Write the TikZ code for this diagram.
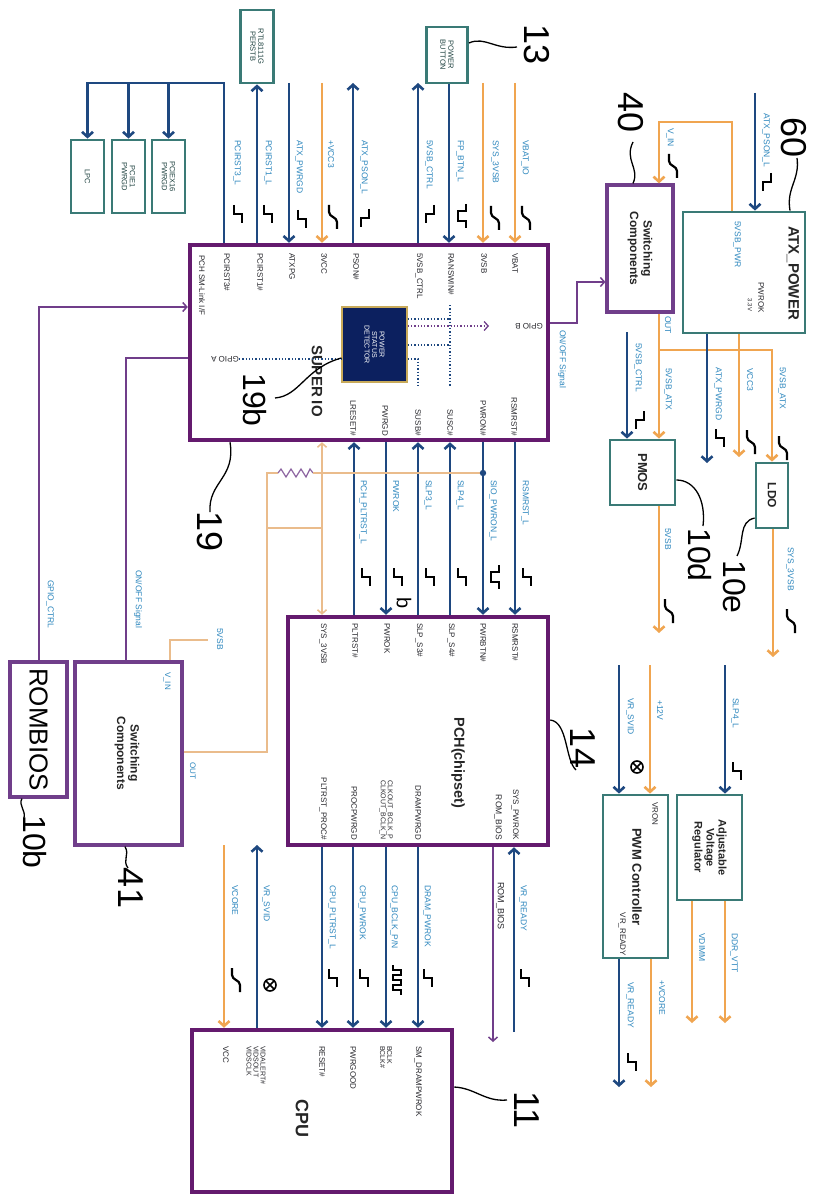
\documentclass[tikz,border=0pt]{standalone}
\usepackage{fontspec}
\setmainfont{Liberation Sans}
\usetikzlibrary{arrows.meta}
\definecolor{navy}{RGB}{30,72,128}
\definecolor{orng}{RGB}{240,165,80}
\definecolor{lorng}{RGB}{234,188,140}
\definecolor{lblc}{RGB}{45,135,190}
\definecolor{pinc}{RGB}{40,40,45}
\definecolor{purp}{RGB}{100,26,110}
\definecolor{purp2}{RGB}{112,62,138}
\definecolor{tealc}{RGB}{58,122,118}
\definecolor{detc}{RGB}{12,32,95}
\definecolor{detb}{RGB}{200,170,90}
\begin{document}
\begin{tikzpicture}[x=1pt,y=-1pt,
  nv/.style={draw=navy,line width=2.6pt},
  og/.style={draw=orng,line width=2.6pt},
  tog/.style={draw=lorng,line width=1.5pt},
  tpl/.style={draw=purp2,line width=1.5pt},
  arr/.style={-{Straight Barb[length=5pt,width=11pt]}},
  sarr/.style={-{Straight Barb[length=4pt,width=9pt]}},
  lbl/.style={rotate=-90,anchor=west,inner sep=0pt,text=lblc,font=\fontsize{8.5}{9}\selectfont},
  pin/.style={rotate=-90,inner sep=0pt,text=pinc,font=\fontsize{8}{8.5}\selectfont},
  pbox/.style={draw=purp,line width=4.5pt,inner sep=0pt},
  sbox/.style={draw=purp2,line width=3.2pt,inner sep=0pt},
  tbox/.style={draw=tealc,line width=2.8pt,inner sep=0pt},
  btxt/.style={rotate=-90,font=\bfseries\fontsize{11}{12}\selectfont,align=center,text=black!85,inner sep=0pt},
  ttxt/.style={rotate=-90,font=\fontsize{7.5}{8}\selectfont,align=center,text=tealc!55!black,inner sep=0pt},
  call/.style={draw=black,line width=1.3pt},
  num/.style={rotate=-90,font=\fontsize{36}{36}\selectfont,inner sep=0pt},
  glyph/.style={draw=black,line width=2.2pt},
  dot/.style={draw=navy,line width=1.3pt,dotted},
  wstep/.pic={\draw[glyph] (-4,-9)--(-4,0)--(4,0)--(4,9);},
  wfall/.pic={\draw[glyph] (4,-9)--(4,0)--(-4,0)--(-4,9);},
  wramp/.pic={\draw[glyph] (-4,-12)--(-4,-5) .. controls (-4,0) and (4,0) .. (4,5)--(4,12);},
  wpulse/.pic={\draw[glyph] (4,-12)--(4,-5)--(-4,-5)--(-4,5)--(4,5)--(4,12);},
  wclk/.pic={\draw[glyph] (-4,-15)--(-4,-10)--(4,-10)--(4,-5)--(-4,-5)--(-4,0)--(4,0)--(4,5)--(-4,5)--(-4,10)--(4,10)--(4,15);},
  wsvid/.pic={\draw[black,line width=1.6pt] (0,0) circle (6) (-4.3,-4.3)--(4.3,4.3) (-4.3,4.3)--(4.3,-4.3);}
]
\fill[white] (0,0) rectangle (815,1198);
\useasboundingbox (0,0) rectangle (815,1198);

% ================= boxes =================
\node[pbox,minimum width=358pt,minimum height=195pt] (sio) at (369,342.5) {};
\node[pbox,minimum width=260pt,minimum height=228pt] (pch) at (418,731) {};
\node[pbox,minimum width=260pt,minimum height=162pt] (cpu) at (322,1111) {};
\node[sbox,minimum width=66pt,minimum height=127pt] (swa) at (640,248.5) {};
\node[tbox,minimum width=122pt,minimum height=121pt] (atx) at (744,272.5) {};
\node[tbox,minimum width=65pt,minimum height=65pt] (pmos) at (642.5,472.5) {};
\node[tbox,minimum width=32pt,minimum height=65pt] (ldo) at (772,495.5) {};
\node[tbox,minimum width=65pt,minimum height=163pt] (pwm) at (635.5,876.5) {};
\node[tbox,minimum width=65pt,minimum height=105pt] (avr) at (709.5,847.5) {};
\node[sbox,minimum width=107pt,minimum height=183pt] (swb) at (128.5,753.5) {};
\node[sbox,minimum width=57pt,minimum height=135pt] (rom) at (38.5,729.5) {};
\node[tbox,minimum width=33pt,minimum height=73pt] (lpc) at (87.5,176.5) {};
\node[tbox,minimum width=33pt,minimum height=73pt] (pcie1) at (128.5,176.5) {};
\node[tbox,minimum width=33pt,minimum height=73pt] (pcie16) at (168.5,176.5) {};
\node[tbox,minimum width=33pt,minimum height=73pt] (rtl) at (257,46.5) {};
\node[tbox,minimum width=41pt,minimum height=56pt] (pbtn) at (447,55) {};
\node[draw=detb,fill=detc,line width=1.2pt,minimum width=65pt,minimum height=75pt,inner sep=0pt] (psd) at (374.5,344.5) {};

% ================= box texts =================
\node[ttxt] (tlpc) at (lpc.center) {LPC};
\node[ttxt] (tpcie1) at (pcie1.center) {PCIE1\\PWRGD};
\node[ttxt] (tpcie16) at (pcie16.center) {PCIEX16\\PWRGD};
\node[ttxt] (trtl) at (rtl.center) {RTL8111G\\PERSTB};
\node[ttxt] (tpbtn) at (pbtn.center) {POWER\\BUTTON};
\node[rotate=-90,text=white,font=\fontsize{7}{7.5}\selectfont,align=center,inner sep=0pt] (tpsd) at (psd.center) {POWER\\STATUS\\DETECTOR};
\node[btxt,font=\bfseries\fontsize{15}{16}\selectfont] (tsio) at (317,381) {SUPER IO};
\node[btxt,font=\bfseries\fontsize{14.5}{15}\selectfont] (tpch) at (458,763) {PCH(chipset)};
\node[btxt,font=\bfseries\fontsize{18}{18}\selectfont] (tcpu) at (302,1118) {CPU};
\node[btxt,font=\bfseries\fontsize{12}{13.5}\selectfont] (tswa) at (swa.center) {Switching\\Components};
\node[btxt,font=\bfseries\fontsize{12}{13.5}\selectfont] (tswb) at (127,753) {Switching\\Components};
\node[btxt,font=\bfseries\fontsize{15}{16}\selectfont] (tatx) at (793,273) {ATX\_POWER};
\node[btxt,font=\bfseries\fontsize{13}{14}\selectfont] (tpmos) at (pmos.center) {PMOS};
\node[btxt,font=\bfseries\fontsize{12}{13}\selectfont] (tldo) at (ldo.center) {LDO};
\node[btxt,font=\bfseries\fontsize{13}{14}\selectfont] (tpwm) at (637,877) {PWM Controller};
\node[btxt,font=\bfseries\fontsize{11}{12}\selectfont] (tavr) at (avr.center) {Adjustable\\Voltage\\Regulator};
\node[rotate=-90,font=\fontsize{26}{26}\selectfont,inner sep=0pt] (trom) at (rom.center) {ROMBIOS};

% ATX inner
\node[lbl] (l5vsbpwr) at (737,221) {5VSB\_PWR};
\node[pin,font=\fontsize{6}{6}\selectfont] (l33) at (750,305) {3.3V};
\node[pin,anchor=east] (lpwrok) at (761,313) {PWROK};
% PWM inner
\node[pin,anchor=west] (lvron) at (655,802) {VRON};
\node[pin,anchor=east] (lvrr) at (622,956) {VR\_READY};
% switching comps text
\node[pin,anchor=west,text=lblc] (lvin2) at (167,672) {V\_IN};
\node[pin,anchor=west,text=lblc] (lout2) at (193,762) {OUT};

% ================= SIO pins =================
\foreach \x/\t in {227/PCIRST3\#,260/PCIRST1\#,292/ATXPG,324/3VCC,356/PSON\#,419/5VSB\_CTRL,451/RANSWIN\#,484/3VSB,515/VBAT}
  \node[pin,anchor=west] at (\x,253) {\t};
\foreach \x/\t in {353/LRESET\#,385/PWRGD,418/SUSB\#,450/SUSC\#,483/PWRON\#,514/RSMRST\#}
  \node[pin,anchor=east] at (\x,436) {\t};
\node[pin,anchor=west] (lsm) at (202,255) {PCH SM-Link I/F};
\node[rotate=180,inner sep=0pt,text=pinc,font=\fontsize{8}{8.5}\selectfont,anchor=east] (gpa) at (211,359) {GPIO A};
\node[rotate=180,inner sep=0pt,text=pinc,font=\fontsize{8}{8.5}\selectfont,anchor=west] (gpb) at (543,326) {GPIO B};
% dotted lines
\draw[dot] (gpa.west) -- (psd.west |- gpa.west);
\draw[dot] (psd.east |- 0,319) -- (450,319);
\draw[dot] (psd.east |- 0,345) -- (450,345);
\draw[dot] (450,305) -- (450,386);
\draw[dot] (psd.east |- 0,359) -- (418,359) -- (418,386);
\draw[dot,draw=purp2,-{Straight Barb[length=4pt,width=9pt]}] (psd.east |- 0,326) -- (489,326);

% ================= PCH pins =================
\foreach \x/\t in {323/SYS\_3VSB,355/PLTRST\#,387/PWROK,419/SLP\_S3\#,451/SLP\_S4\#,483/PWRBTN\#,515/RSMRST\#}
  \node[pin,anchor=west] at (\x,623) {\t};
\foreach \x/\t in {323/PLTRST\_PROC\#,354/PROCPWRGD,418/DRAMPWRGD,515/SYS\_PWROK}
  \node[pin,anchor=east] at (\x,840) {\t};
\node[pin,anchor=east,align=center,font=\fontsize{7}{7}\selectfont] at (386,840) {CLKOUT\_BCLK\_P\\CLKOUT\_BCLK\_N};
\node[pin,anchor=east,font=\fontsize{8.5}{8.5}\selectfont] at (498,840) {ROM\_BIOS};

% ================= CPU pins =================
\foreach \x/\t in {226/VCC,322/RESET\#,353/PWRGOOD,418/SM\_DRAMPWROK}
  \node[pin,anchor=west] at (\x,1046) {\t};
\node[pin,anchor=west,align=left,font=\fontsize{7}{7}\selectfont] at (256,1046) {VIDALERT\#\\VIDSOUT\\VIDSCLK};
\node[pin,anchor=west,align=left,font=\fontsize{7}{7}\selectfont] at (386,1046) {BCLK\\BCLK\#};

% ================= top connectors =================
\draw[nv,arr] (224,0 |- sio.north) -- (224,83) coordinate (pcb) -- (87.5,83) coordinate (pca) -- (lpc.north);
\draw[nv,arr] (pcie1.north |- pca) -- (pcie1.north);
\draw[nv,arr] (pcie16.north |- pca) -- (pcie16.north);
\draw[nv,arr] (257,0 |- sio.north) -- (rtl.south);
\draw[nv,arr] (289,83) coordinate (catxpg) -- (289,0 |- sio.north);
\draw[og,arr] (322,83) coordinate (cvcc3) -- (322,0 |- sio.north);
\draw[nv,arr] (353,0 |- sio.north) -- (353,83) coordinate (cpson);
\draw[nv,arr] (418,0 |- sio.north) -- (418,83) coordinate (csvsbc);
\draw[nv,arr] (449,0 |- pbtn.south) -- (449,0 |- sio.north);
\draw[og,arr] (483,83) coordinate (cs3vsb) -- (483,0 |- sio.north);
\draw[og,arr] (515,83) coordinate (cvbat) -- (515,0 |- sio.north);
\foreach \x/\t in {237/PCIRST3\_L,268/PCIRST1\_L,299/ATX\_PWRGD,331/+VCC3,364/ATX\_PSON\_L,429/5VSB\_CTRL,460/FP\_BTN\_L,495/SYS\_3VSB,525/VBAT\_IO}
  \node[lbl] at (\x,140) {\t};
\pic at (238,214) {wstep};
\pic at (268,214) {wstep};
\pic at (302,219) {wstep};
\pic at (333,217) {wramp};
\pic at (365,218) {wfall};
\pic at (430,214) {wfall};
\pic at (462,216) {wpulse};
\pic at (495,218) {wramp};
\pic at (526,218) {wramp};

% ================= SIO <-> PCH =================
\draw[tog,{Straight Barb[length=4pt,width=9pt]}-{Straight Barb[length=4pt,width=9pt]}] (322,0 |- sio.south) -- (322,0 |- pch.north);
\draw[nv,arr] (354,0 |- pch.north) -- (354,0 |- sio.south);
\draw[nv,arr] (386,0 |- sio.south) -- (386,0 |- pch.north);
\draw[nv,arr] (418,0 |- pch.north) -- (418,0 |- sio.south);
\draw[nv,arr] (450,0 |- pch.north) -- (450,0 |- sio.south);
\draw[nv,arr] (483,0 |- sio.south) -- (483,0 |- pch.north);
\draw[nv,arr] (515,0 |- sio.south) -- (515,0 |- pch.north);
\foreach \x/\t in {363/PCH\_PLTRST\_L,396/PWROK,428/SLP3\_L,460/SLP4\_L,493/SIO\_PWRON\_L,525/RSMRST\_L}
  \node[lbl] at (\x,480) {\t};
\foreach \x in {366,398,430,462,527} \pic at (\x,577) {wstep};
\pic at (495,577) {wpulse};
\node[rotate=-90,font=\fontsize{20}{20}\selectfont,inner sep=0pt] (bchar) at (404,603) {b};

% pull-up network
\draw[tog] (swb.east |- 0,752) -- (267,752) -- (267,473) coordinate (rl) -- (278,473);
\draw[tog] (267,528) -- (322,528);
\draw[draw=purp2!80,line width=1.2pt] (278,473) -- (281,469) -- (286,477) -- (291,469) -- (296,477) -- (301,469) -- (306,477) -- (310,469) -- (313,473);
\draw[tog] (313,473) -- (483,473) coordinate (jn);
\fill[navy] (jn) circle (3.2);

% ================= PCH -> CPU =================
\draw[og,arr] (224,845) coordinate (cvcore) -- (224,0 |- cpu.north);
\draw[nv,arr] (257,0 |- cpu.north) -- (257,845) coordinate (csvid);
\draw[nv,arr] (322,0 |- pch.south) -- (322,0 |- cpu.north);
\draw[nv,arr] (353,0 |- pch.south) -- (353,0 |- cpu.north);
\draw[nv,arr] (386,0 |- pch.south) -- (386,0 |- cpu.north);
\draw[nv,arr] (418,0 |- pch.south) -- (418,0 |- cpu.north);
\draw[tpl,sarr] (493,0 |- pch.south) -- (493,1042) coordinate (crom);
\draw[nv,arr] (514,1032) coordinate (cvrr) -- (514,0 |- pch.south);
\foreach \x/\t in {235/VCORE,266/VR\_SVID,332/CPU\_PLTRST\_L,362/CPU\_PWROK,394/{CPU\_BCLK\_P/N},427/DRAM\_PWROK,523/VR\_READY}
  \node[lbl] at (\x,885) {\t};
\node[lbl,text=pinc,font=\fontsize{9}{9}\selectfont] at (500,882) {ROM\_BIOS};
\pic at (236,980) {wramp};
\pic at (270,985) {wsvid};
\pic at (333,978) {wstep};
\pic at (364,978) {wstep};
\pic at (397,980) {wclk};
\pic at (428,978) {wstep};
\pic at (525,978) {wstep};

% ================= left side =================
\draw[tpl,sarr] (39,0 |- rom.north) -- (39,307) -- (sio.west |- 0,307);
\draw[tpl] (126,0 |- swb.north) -- (126,358) -- (sio.west |- 0,358);
\draw[tog] (170,0 |- swb.north) -- (170,640) -- (208,640) coordinate (c5vsb);
\node[lbl] at (50,580) {GPIO\_CTRL};
\node[lbl] at (138,570) {ON/OFF Signal};
\node[lbl] at (220,628) {5VSB};

% ================= right side =================
\draw[tpl,sarr] (sio.east |- 0,323) -- (577,323) -- (577,282) -- (swa.west |- 0,282);
\node[lbl] at (562,330) {ON/OFF Signal};
\draw[og,arr] (732,0 |- atx.north) -- (732,122) -- (659,122) -- (659,0 |- swa.north);
\node[lbl] at (670,128) {V\_IN};
\pic at (673,166) {wramp};
\draw[nv,arr] (755,93) coordinate (catxps) -- (755,0 |- atx.north);
\node[lbl] at (766,113) {ATX\_PSON\_L};
\pic at (767,182) {wfall};
\draw[og,arr] (659,0 |- swa.south) -- (659,0 |- pmos.north);
\draw[og,arr] (659,350) -- (772,350) -- (772,0 |- ldo.north);
\node[lbl] at (668,316) {OUT};
\node[lbl] at (668,368) {5VSB\_ATX};
\node[lbl] at (782,367) {5VSB\_ATX};
\pic at (783,448) {wramp};
\draw[nv,arr] (627,332) coordinate (csvc2) -- (627,0 |- pmos.north);
\node[lbl] at (638,343) {5VSB\_CTRL};
\pic at (640,420) {wfall};
\draw[nv,arr] (707,0 |- atx.south) -- (707,463) coordinate (catxpg2);
\node[lbl] at (718,367) {ATX\_PWRGD};
\pic at (720,438) {wstep};
\draw[og,arr] (739,0 |- atx.south) -- (739,457) coordinate (cvcc3b);
\node[lbl] at (750,368) {VCC3};
\pic at (751,442) {wramp};
\draw[og,arr] (659,0 |- pmos.south) -- (659,633) coordinate (c5vsbo);
\node[lbl] at (668,528) {5VSB};
\pic at (669,611) {wramp};
\draw[og,arr] (773,0 |- ldo.south) -- (773,657) coordinate (csys3);
\node[lbl] at (790,547) {SYS\_3VSB};
\pic at (791,621) {wramp};

\draw[nv,arr] (619,665) coordinate (cvrsvid) -- (619,0 |- pwm.north);
\draw[og,arr] (650,665) coordinate (c12v) -- (650,0 |- pwm.north);
\draw[nv,arr] (725,665) coordinate (cslp4) -- (725,0 |- avr.north);
\node[lbl] at (630,698) {VR\_SVID};
\node[lbl] at (660,700) {+12V};
\node[lbl] at (735,698) {SLP4\_L};
\pic at (637,767) {wsvid};
\pic at (737,771) {wstep};
\draw[og,arr] (692,0 |- avr.south) -- (692,1023) coordinate (cvdimm);
\draw[og,arr] (725,0 |- avr.south) -- (725,1023) coordinate (cddr);
\node[lbl] at (702,933) {VDIMM};
\node[lbl] at (734,933) {DDR\_VTT};
\draw[nv,arr] (619,0 |- pwm.south) -- (619,1087) coordinate (cvrr2);
\draw[og,arr] (651,0 |- pwm.south) -- (651,1087) coordinate (cvcore2);
\node[lbl] at (630,982) {VR\_READY};
\node[lbl] at (662,980) {+VCORE};
\pic at (632,1062) {wstep};

% ================= callouts =================
\node[num] (n13) at (537,45) {13};
\draw[call] (pbtn.east |- 0,43) .. controls (485,36) and (495,50) .. (517,47);
\node[num] (n40) at (631,113) {40};
\draw[call] (633,142) .. controls (624,160) and (640,168) .. (633,0 |- swa.north);
\node[num] (n60) at (794,138) {60};
\draw[call] (797,158) .. controls (800,180) and (786,188) .. (790,0 |- atx.north);
\node[num,font=\fontsize{32}{32}\selectfont] (n19b) at (255,400) {19b};
\draw[call] (275,398) .. controls (300,396) and (305,368) .. (psd.west |- 0,358);
\node[num] (n19) at (210,532) {19};
\draw[call] (230,0 |- sio.south) .. controls (236,478) and (208,482) .. (210,512);
\node[num,font=\fontsize{32}{32}\selectfont] (n10d) at (700,555) {10d};
\draw[call] (pmos.east |- 0,480) .. controls (695,480) and (706,500) .. (703,526);
\node[num,font=\fontsize{32}{32}\selectfont] (n10e) at (735,587) {10e};
\draw[call] (ldo.west |- 0,518) .. controls (738,522) and (745,540) .. (737,556);
\node[num] (n14) at (583,748) {14};
\draw[call] (pch.east |- 0,720) .. controls (568,722) and (565,760) .. (576,770);
\node[num] (n11) at (527,1110) {11};
\draw[call] (cpu.east |- 0,1087) .. controls (475,1088) and (485,1102) .. (507,1100);
\node[num,font=\fontsize{32}{32}\selectfont] (n10b) at (35,842) {10b};
\draw[call] (22,0 |- rom.south) .. controls (18,805) and (26,810) .. (24,818);
\node[num] (n41) at (131,888) {41};
\draw[call] (125,0 |- swb.south) .. controls (130,855) and (122,860) .. (128,868);
\end{tikzpicture}
\end{document}
